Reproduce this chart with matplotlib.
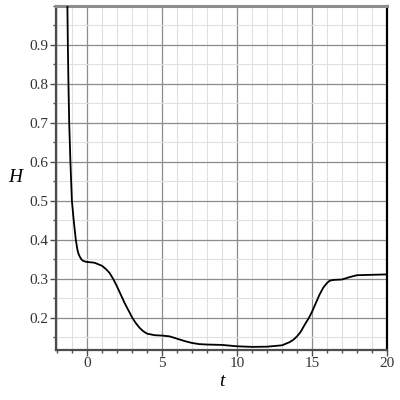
import matplotlib
matplotlib.use("Agg")
import matplotlib.pyplot as plt
from matplotlib.ticker import MultipleLocator

# values
t_vals = [-1.34, -1.31, -1.28, -1.24, -1.19, -1.11, -1.01, -0.89, -0.75, -0.64,
          -0.57, -0.49, -0.38, -0.27, -0.13, 0.0, 0.5, 1.0, 1.25, 1.5, 1.75, 2.0,
          2.5, 3.0, 3.25, 3.5, 3.75, 4.0, 4.5, 5.0,
          5.5, 6.0, 6.5, 7.0, 7.5, 8.0, 9.0, 10.0, 11.0, 12.0, 13.0, 13.5, 13.75, 14.0,
          14.25, 14.5, 14.8, 15.0, 15.5, 15.75, 16.0, 16.15, 16.3, 16.5, 17.0, 17.5,
          18.0, 19.0, 20.0]
H_vals = [1.05, 1.0, 0.9, 0.8, 0.7, 0.6, 0.5, 0.45, 0.4, 0.374,
          0.364, 0.357, 0.350, 0.346, 0.344, 0.343, 0.341, 0.333, 0.325, 0.315, 0.299, 0.280,
          0.238, 0.201, 0.186, 0.174, 0.165, 0.159, 0.155, 0.154,
          0.152, 0.146, 0.140, 0.135, 0.132, 0.131, 0.130, 0.1265, 0.125, 0.1255, 0.129, 0.137, 0.143, 0.152,
          0.164, 0.181, 0.200, 0.215, 0.259, 0.277, 0.289, 0.294, 0.296, 0.297, 0.298, 0.304,
          0.309, 0.310, 0.311]

x_major = [0, 5, 10, 15, 20]
y_major = [0.2, 0.3, 0.4, 0.5, 0.6, 0.7, 0.8, 0.9]

fig = plt.figure(figsize=(4, 4), dpi=100)
ax = fig.add_axes([0.14, 0.126, 0.8275, 0.859])

ax.plot(t_vals, H_vals, color="black", linewidth=1.3, zorder=3)

ax.set_xlim(-2.07, 20)
ax.set_ylim(0.118, 1.0)

ax.set_xticks(x_major)
ax.set_yticks(y_major)
ax.xaxis.set_minor_locator(MultipleLocator(1))
ax.yaxis.set_minor_locator(MultipleLocator(0.05))

ax.grid(which="major", color="#8c8c8c", linewidth=0.9)
ax.grid(which="minor", color="#e0e0e0", linewidth=0.8)
ax.set_axisbelow(True)

# spines like the maple frame
ax.spines["left"].set_color("#4d4d4d")
ax.spines["left"].set_linewidth(1.6)
ax.spines["bottom"].set_color("#4d4d4d")
ax.spines["bottom"].set_linewidth(1.6)
ax.spines["top"].set_color("#8c8c8c")
ax.spines["top"].set_linewidth(2.2)
ax.spines["right"].set_color("black")
ax.spines["right"].set_linewidth(1.6)

ax.tick_params(which="major", direction="out", length=4, width=1, color="#4d4d4d",
               labelsize=11, labelcolor="#333333", pad=1.5)
ax.tick_params(which="minor", direction="out", length=2.5, width=1, color="#4d4d4d")

labels = ax.get_xticklabels() + ax.get_yticklabels()
for lb in labels:
    lb.set_family("Liberation Serif")

ax.set_xlabel("t", family="Liberation Serif", style="italic", fontsize=14, labelpad=2)
ax.set_ylabel("H", family="Liberation Serif", style="italic", fontsize=14, rotation=0,
              labelpad=10, va="center")

fig.savefig("out.png", dpi=100)
